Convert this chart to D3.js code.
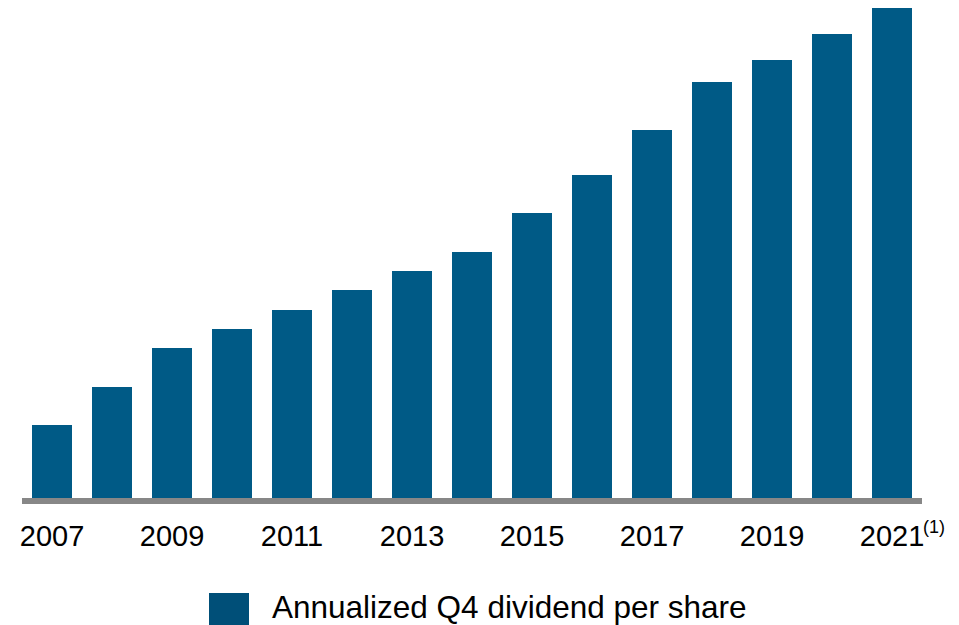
<!DOCTYPE html>
<html>
<head>
<meta charset="utf-8">
<script src="https://cdn.jsdelivr.net/npm/d3@7"></script>
<style>
  body { margin: 0; background: #fff; }
  svg { display: block; font-family: "Liberation Sans", Arial, sans-serif; }
</style>
</head>
<body>
<div id="chart"></div>
<script>
// data (relative units, no axis shown)
const years = ["2007", "2008", "2009", "2010", "2011", "2012", "2013", "2014",
               "2015", "2016", "2017", "2018", "2019", "2020", "2021"];
const dividends = [0.73, 1.11, 1.50, 1.69, 1.88, 2.08, 2.27, 2.46,
                   2.85, 3.23, 3.68, 4.16, 4.38, 4.64, 4.90];
const tickYears = ["2007", "2009", "2011", "2013", "2015", "2017", "2019", "2021"];
const footnotes = { "2021": "(1)" };
const legendLabel = "Annualized Q4 dividend per share";

const width = 959, height = 625;
const barColor = "#005a86";
const legendColor = "#004f78";

const svg = d3.select('#chart').append('svg')
    .attr('width', width)
    .attr('height', height);

const x = d3.scaleBand()
    .domain(years)
    .range([22, 922])
    .paddingInner(1 / 3)
    .paddingOuter(1 / 6);

const y = d3.scaleLinear()
    .domain([0, 4.90])
    .range([498, 8]);

// bars
svg.append('g')
    .selectAll('rect')
    .data(years)
    .join('rect')
    .attr('x', d => x(d))
    .attr('width', x.bandwidth())
    .attr('y', (d, i) => y(dividends[i]))
    .attr('height', (d, i) => y(0) - y(dividends[i]))
    .attr('fill', barColor);

// baseline
svg.append('line')
    .attr('x1', 22)
    .attr('x2', 922)
    .attr('y1', 501)
    .attr('y2', 501)
    .attr('stroke', '#878787')
    .attr('stroke-width', 6);

// x labels, every other year
const xAxis = d3.axisBottom(x)
    .tickValues(tickYears)
    .tickSize(0)
    .tickPadding(0);

const axisG = svg.append('g')
    .attr('transform', 'translate(0,546)')
    .call(xAxis);
axisG.select('.domain').remove();
axisG.selectAll('.tick text')
    .attr('y', 0)
    .attr('dy', 0)
    .attr('font-size', 29)
    .attr('font-family', '"Liberation Sans", Arial, sans-serif')
    .attr('fill', '#000');

// footnote marker on last label
axisG.selectAll('.tick')
    .filter(d => footnotes[d])
    .append('text')
    .attr('x', x.bandwidth() / 2 + 11)
    .attr('y', -13)
    .attr('text-anchor', 'start')
    .attr('font-size', 18)
    .attr('font-family', '"Liberation Sans", Arial, sans-serif')
    .attr('fill', '#000')
    .text(d => footnotes[d]);

// legend
const legend = svg.append('g').attr('transform', 'translate(209,593)');
legend.append('rect')
    .attr('width', 40)
    .attr('height', 32)
    .attr('fill', legendColor);
legend.append('text')
    .attr('x', 63)
    .attr('y', 25)
    .attr('font-size', 31.5)
    .attr('fill', '#000')
    .text(legendLabel);
</script>
</body>
</html>
